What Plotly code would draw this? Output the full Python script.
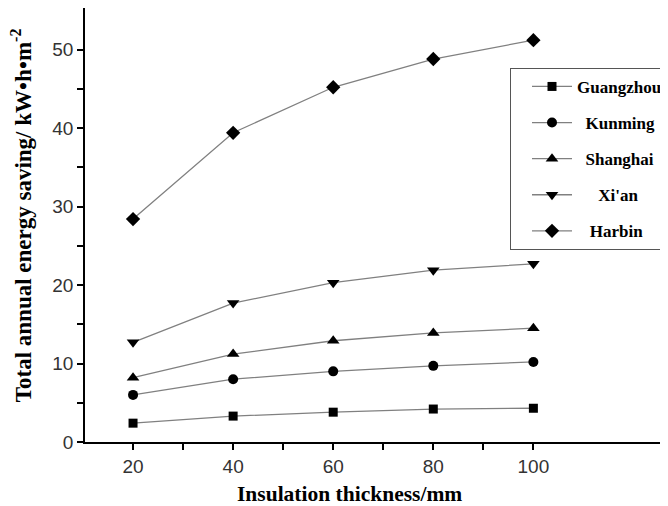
import plotly.graph_objects as go

thickness = [20, 40, 60, 80, 100]
cities = ["Guangzhou", "Kunming", "Shanghai", "Xi'an", "Harbin"]
guangzhou = [2.4, 3.3, 3.8, 4.2, 4.3]
kunming = [6.0, 8.0, 9.0, 9.7, 10.2]
shanghai = [8.2, 11.2, 12.9, 13.9, 14.5]
xian = [12.7, 17.7, 20.3, 21.9, 22.7]
harbin = [28.4, 39.4, 45.2, 48.8, 51.2]

series = [guangzhou, kunming, shanghai, xian, harbin]
symbols = ["square", "circle", "triangle-up", "triangle-down", "diamond"]
sizes = [9, 10, 11, 11, 11]
legend_names = ["Guangzhou", "\u00a0\u00a0Kunming", "\u00a0\u00a0Shanghai",
                "\u00a0\u00a0\u00a0\u00a0\u00a0Xi'an", "\u00a0\u00a0\u00a0Harbin"]

# page body has an 8px margin; figure placed so the plot area matches the reference
fig = go.Figure()
for i, (vals, sym) in enumerate(zip(series, symbols)):
    fig.add_trace(go.Scatter(
        x=thickness, y=vals, mode="lines+markers", name=legend_names[i],
        legendgroup=cities[i],
        line=dict(color="#808080", width=1.3),
        marker=dict(symbol=sym, size=sizes[i], color="black"),
    ))

fig.update_layout(
    width=660, height=498,
    margin=dict(l=77, r=0, t=0, b=64),
    paper_bgcolor="white", plot_bgcolor="white",
    showlegend=True,
    legend=dict(
        x=0.732, y=0.862, xanchor="left", yanchor="top",
        bgcolor="white", bordercolor="#555", borderwidth=1,
        font=dict(family="Liberation Serif", size=17, color="black", weight="bold"),
        tracegroupgap=11, traceorder="grouped",
        indentation=16, itemwidth=40,
    ),
    xaxis=dict(
        range=[10.4, 126.5], tickvals=[20, 40, 60, 80, 100],
        showgrid=False, zeroline=False, showline=True, linecolor="black", linewidth=1.5,
        ticks="outside", ticklen=6, tickwidth=1.5, tickcolor="black",
        minor=dict(tickvals=[30, 50, 70, 90], ticks="outside", ticklen=6, tickwidth=1.5, tickcolor="black"),
        tickfont=dict(family="Liberation Sans", size=19, color="#333"),
    ),
    yaxis=dict(
        range=[0, 55.3], tickvals=[0, 10, 20, 30, 40, 50],
        showgrid=False, zeroline=False, showline=True, linecolor="black", linewidth=1.5,
        ticks="outside", ticklen=6, tickwidth=1.5, tickcolor="black",
        minor=dict(tickvals=[5, 15, 25, 35, 45], ticks="outside", ticklen=6, tickwidth=1.5, tickcolor="black"),
        tickfont=dict(family="Liberation Sans", size=19, color="#333"),
    ),
    annotations=[
        dict(text="Insulation thickness/mm", xref="paper", yref="paper",
             x=(350 - 85) / 583, y=-(494 - 442) / 434, xanchor="center", yanchor="middle",
             showarrow=False,
             font=dict(family="Liberation Serif", size=21.5, color="black", weight="bold")),
        dict(text="Total annual energy saving/ kW•h•m<sup>-2</sup>", xref="paper", yref="paper",
             x=(21 - 85) / 583, y=(442 - 215) / 434, xanchor="center", yanchor="middle",
             textangle=-90, showarrow=False,
             font=dict(family="Liberation Serif", size=23, color="black", weight="bold")),
    ],
)

fig.write_html("out.html")
